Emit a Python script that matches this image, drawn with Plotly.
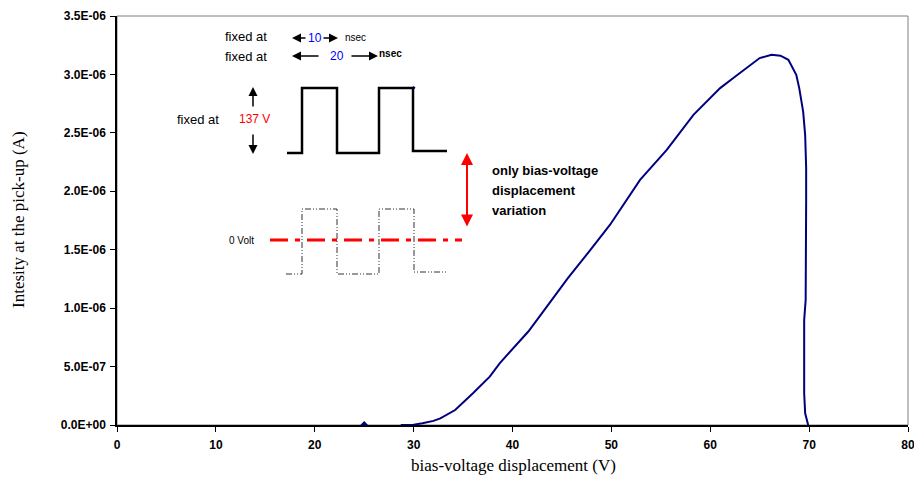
import plotly.graph_objects as go

# ---- data ----
bias_v = [28.7, 30.0, 30.9, 32.0, 32.7, 34.2, 36.0, 37.7, 38.7, 40.1, 41.6, 43.1,
          45.6, 47.8, 49.85, 52.9, 55.6, 58.3, 61.0, 62.3, 63.7, 65.0, 66.2, 67.1,
          67.9, 68.7, 69.0, 69.2, 69.4, 69.6, 69.7, 69.7, 69.65, 69.5, 69.5, 69.6, 69.9]
intensity_e6 = [0, 0.003, 0.015, 0.035, 0.057, 0.128, 0.271, 0.414, 0.528, 0.657, 0.80, 0.97,
                1.256, 1.49, 1.712, 2.098, 2.354, 2.654, 2.883, 2.968, 3.06, 3.14, 3.168, 3.16,
                3.125, 2.997, 2.883, 2.783, 2.68, 2.48, 2.2, 1.926, 1.07, 0.9, 0.27, 0.1, 0]
intensity = [v * 1e-6 for v in intensity_e6]

marker_x = [25]
marker_y = [0]
dot_x = [30]
dot_y = [2.885e-6]

y_tickvals = [0, 0.5e-6, 1.0e-6, 1.5e-6, 2.0e-6, 2.5e-6, 3.0e-6, 3.5e-6]
y_ticktext = ["0.0E+00", "5.0E-07", "1.0E-06", "1.5E-06", "2.0E-06", "2.5E-06", "3.0E-06", "3.5E-06"]
x_tickvals = [0, 10, 20, 30, 40, 50, 60, 70, 80]
x_ticktext = [str(v) for v in x_tickvals]

# ---- layout geometry (pixels of the plot area) ----
L, R, T, B = 117, 908, 16, 425
W, H = 914, 483


def X(px):
    return (px - L) / (R - L) * 80


def Y(py):
    return (B - py) / (B - T) * 3.5e-6


NAVY = "#000080"
TICKFONT = dict(family="Arial, Liberation Sans", size=12, color="black", weight="bold")
SERIF = "Times New Roman, Liberation Serif"

fig = go.Figure()
fig.add_trace(go.Scatter(x=bias_v, y=intensity, mode="lines",
                         line=dict(color=NAVY, width=2), showlegend=False, hoverinfo="skip"))
fig.add_trace(go.Scatter(x=marker_x, y=marker_y, mode="markers",
                         marker=dict(symbol="diamond", size=6, color=NAVY), showlegend=False))
fig.add_trace(go.Scatter(x=dot_x, y=dot_y, mode="markers",
                         marker=dict(symbol="diamond", size=3, color=NAVY), showlegend=False))

shapes = []
shapes.append(dict(type="rect", xref="paper", yref="paper", x0=0, x1=1, y0=0, y1=1,
                   line=dict(color="#808080", width=1), layer="below"))

pulse = [(287, 153), (302, 153), (302, 88), (337, 88), (337, 153), (379, 153),
         (379, 88), (413, 88), (413, 151), (447, 151)]
path = "M " + " L ".join(f"{X(a)},{Y(b)}" for a, b in pulse)
shapes.append(dict(type="path", xref="x", yref="y", path=path,
                   line=dict(color="black", width=2.5)))

pulse2 = [(286, 274), (302, 274), (302, 209), (337, 209), (337, 274), (379, 274),
          (379, 209), (414, 209), (414, 272), (446, 272)]
path2 = "M " + " L ".join(f"{X(a)},{Y(b)}" for a, b in pulse2)
shapes.append(dict(type="path", xref="x", yref="y", path=path2,
                   line=dict(color="#333333", width=1, dash="6px,2px,1px,2px,1px,2px")))

shapes.append(dict(type="line", xref="x", yref="y", x0=X(270), x1=X(462), y0=Y(240), y1=Y(240),
                   line=dict(color="#ff0000", width=3, dash="18px,7px,5px,7px")))

annotations = []


def arrow(x_head, y_head, x_tail, y_tail, color="black", both=False, width=1.5):
    annotations.append(dict(x=X(x_head), y=Y(y_head), ax=X(x_tail), ay=Y(y_tail),
                            xref="x", yref="y", axref="x", ayref="y", text="",
                            showarrow=True, arrowhead=2, arrowsize=1.2, arrowwidth=width,
                            arrowcolor=color, arrowside="end+start" if both else "end"))


def text(px, py, s, size=12, color="black", bold=False, xanchor="center"):
    annotations.append(dict(x=X(px), y=Y(py), xref="x", yref="y", text=s, showarrow=False,
                            xanchor=xanchor, yanchor="middle",
                            font=dict(family="Arial, Liberation Sans", size=size, color=color,
                                      weight="bold" if bold else "normal")))


arrow(292, 38, 307, 38)
arrow(338, 38, 322, 38)
text(315, 38, "10", size=12, color="#0000ff")
text(343, 37, "nsec", size=10, xanchor="left")
text(246, 36, "fixed at", size=13)

arrow(292, 56, 320, 56)
arrow(378, 56, 350, 56)
text(337, 56, "20", size=12, color="#0000ff")
text(377, 53, "nsec", size=10, bold=True, xanchor="left")
text(246, 56, "fixed at", size=13)

arrow(253, 87, 253, 108)
arrow(253, 154, 253, 133)
text(254, 119, "137 V", size=12, color="#ff0000")
text(198, 119, "fixed at", size=13)

arrow(467, 153, 467, 228, color="#ff0000", both=True, width=2)

text(490, 170, "only bias-voltage", size=13, bold=True, xanchor="left")
text(490, 190, "displacement", size=13, bold=True, xanchor="left")
text(490, 210, "variation", size=13, bold=True, xanchor="left")

text(241, 240, "0 Volt", size=10)

# axis titles (paper coords are relative to the plot area)
annotations.append(dict(x=(18 - L) / (R - L), y=(B - 220) / (B - T), xref="paper", yref="paper",
                        text="Intesity at the pick-up (A)", textangle=-90, showarrow=False,
                        xanchor="center", yanchor="middle",
                        font=dict(family=SERIF, size=17, color="black")))
annotations.append(dict(x=(513 - L) / (R - L), y=(B - 465) / (B - T), xref="paper", yref="paper",
                        text="bias-voltage displacement (V)", showarrow=False,
                        xanchor="center", yanchor="middle",
                        font=dict(family=SERIF, size=17, color="black")))

fig.update_layout(
    width=W, height=H,
    margin=dict(l=L, r=W - R, t=T, b=H - B, pad=0, autoexpand=False),
    paper_bgcolor="white", plot_bgcolor="white",
    shapes=shapes, annotations=annotations,
    xaxis=dict(range=[0, 80], tickvals=x_tickvals, ticktext=x_ticktext, showgrid=False,
               zeroline=False, showline=True, linecolor="black", linewidth=1.5,
               ticks="outside", ticklen=5, tickcolor="black", ticklabelstandoff=3,
               ticklabeloverflow="allow", automargin=False, tickfont=TICKFONT),
    yaxis=dict(range=[0, 3.5e-6], tickvals=y_tickvals, ticktext=y_ticktext, showgrid=False,
               zeroline=False, showline=True, linecolor="black", linewidth=1.5,
               ticks="outside", ticklen=5, tickcolor="black", ticklabelstandoff=2,
               automargin=False, tickfont=TICKFONT),
)

fig.write_html("out.html")
